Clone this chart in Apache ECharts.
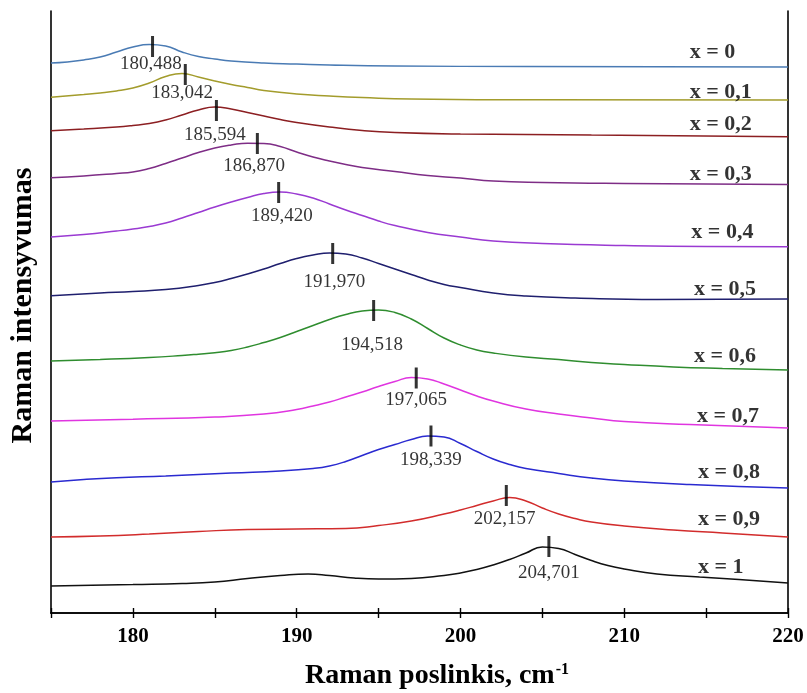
<!DOCTYPE html>
<html>
<head>
<meta charset="utf-8">
<script src="https://cdn.jsdelivr.net/npm/echarts@6/dist/echarts.min.js"></script>
<style>
  html, body { margin: 0; padding: 0; background: #fff; }
  #main { width: 807px; height: 693px; }
</style>
</head>
<body>
<div id="main"></div>
<script>
// Raman spectra, stacked with offsets (intensity in arbitrary units)
const seriesNames = ['x = 0', 'x = 0,1', 'x = 0,2', 'x = 0,3', 'x = 0,4', 'x = 0,5',
                     'x = 0,6', 'x = 0,7', 'x = 0,8', 'x = 0,9', 'x = 1'];
const seriesColors = ['#4a7bb4', '#a39c2c', '#8c1f22', '#7e2d86', '#9a3ad2', '#1f1f6e',
                      '#2f8d2f', '#e035e0', '#2a2ad0', '#d22c2c', '#111111'];

const c00 = [[175,550],[176,551],[177,553],[178,556],[179,561],[180,566],[181,568.5],[182,567],[183,561],[184,556.5],[185,554],[186,552],[188,550],[190,549],[192,548],[196,547],[204,546.5],[220,546]];
const c01 = [[175,515.7],[177,518.5],[178,520],[179,522],[180,525],[181,530],[182,536.5],[183,539.5],[184,536],[185,532],[186,528.5],[187,525.5],[188,522.5],[190,519],[192,517],[194,515.5],[197,514],[205,513.2],[220,513]];
const c02 = [[175,482.3],[177,484],[179,486],[180,487.5],[181,489.5],[182,493],[183,498],[184,503],[185,506],[186,504],[187,500.5],[188,497],[189,493.5],[190,490.5],[192,486],[194,482.5],[196,480.5],[200,479],[208,478],[220,476.3]];
const c03 = [[175,435.3],[177,437],[179,439.5],[180,441],[181,444.5],[182,449.5],[183,455],[184,460.5],[185,465],[186,468],[187,469.8],[188,469.5],[189,466.5],[190,461],[191,456],[192,452],[193,448.5],[194,445.5],[196,441.5],[198,437.5],[200,435],[202,432],[205,430.5],[210,429.5],[220,428.5]];
const c04 = [[175,376],[177,378.5],[179,382],[180,384],[181,386.5],[182,390],[183,395],[184,400.5],[185,406],[186,411],[187,415.5],[188,419.5],[189,421],[190,419],[191,415],[192,409],[193,403],[194,397.5],[195,392],[196,387.5],[198,380.5],[200,376],[202,372],[205,369.5],[210,367.5],[215,366.5],[220,366.3]];
const c05 = [[175,317.3],[178,320],[180,321.5],[182,323.5],[184,327.5],[185,330.5],[186,334.5],[187,339],[188,344],[189,349.5],[190,354.5],[191,358],[192,360],[193,359],[194,355],[195,349.5],[196,344],[197,338.5],[198,333],[199,328.5],[200,325.5],[202,320],[204,317],[207,315],[212,313.5],[220,314]];
const c06 = [[175,252],[178,253.5],[181,255.5],[183,257.5],[184,258.8],[185,260.3],[186,262.5],[187,266],[188,270.5],[189,275.5],[190,281.5],[191,287.5],[192,293.5],[193,298.5],[194,302],[195,303],[196,300.5],[197,294],[198,284.5],[199,275],[200,268],[201,263],[202,260],[204,256],[206,253.5],[208,250.5],[210,248.5],[213,246],[216,244.5],[220,243]];
const c07 = [[175,192],[180,193.8],[185,196],[188,199],[190,203.5],[191,207],[192,211],[193,216],[194,221],[195,226.5],[196,231.5],[197,235.5],[198,234],[199,229],[200,223],[201,217],[202,212],[204,204],[206,199],[208,195],[210,191.5],[214,188.5],[220,185]];
const c08 = [[175,131],[177,133.5],[179,135.3],[182,137],[186,140],[189,142],[191,144.5],[192,147],[193,151.5],[194,157.5],[195,163.5],[196,168.5],[197,173.5],[198,177],[199,176],[200,169.5],[201,161.5],[202,154],[203,148.5],[204,144.5],[206,139.5],[208,135],[210,132],[214,128.5],[220,125]];
const c09 = [[175,76],[178,77],[181,79],[184,81.5],[187,83.5],[190,84],[193,84.5],[195,87.5],[197,92],[199,99],[200,103],[201,107.5],[202,112],[203,115.5],[204,112],[205,105],[206,99],[207,94.5],[208,91],[210,87],[213,83],[216,80],[220,76]];
const c10 = [[175,27],[180,28.5],[183,29.5],[185,31],[187,34.5],[189,37.5],[190.7,39],[192,37.5],[193.5,35],[195,34],[197,34.5],[199,37.5],[200,40],[201,43.5],[202,48],[203,53.5],[204,60],[205,66],[206,64.5],[207,58.5],[208,52.5],[209,47.5],[210,44],[212,39],[214.6,36],[217,33.5],[220,30]];
const curves = [c00, c01, c02, c03, c04, c05, c06, c07, c08, c09, c10];

// composition labels (data coords of left edge / middle)
const nameX = [214.0, 214.0, 214.0, 214.0, 214.1, 214.26, 214.26, 214.44, 214.5, 214.5, 214.5];
const nameI = [561, 521, 488.5, 438.5, 380.5, 323.5, 256.5, 196.5, 140.5, 93.5, 46];

// peak markers and their values
const peakX = [181.2, 183.2, 185.1, 187.6, 188.9, 192.2, 194.7, 197.3, 198.2, 202.8, 205.4];
const peakI = [566.5, 538.5, 502.5, 469.5, 420.5, 359.5, 302.5, 235, 177, 117.5, 66.5];
const peakText = ['180,488', '183,042', '185,594', '186,870', '189,420', '191,970',
                  '194,518', '197,065', '198,339', '202,157', '204,701'];
const peakLabelX = [181.1, 183.0, 185.0, 187.4, 189.1, 192.3, 194.6, 197.3, 198.2, 202.7, 205.4];
const peakLabelI = [549, 520, 478, 447, 397, 331, 268, 213, 153, 94, 40];

const xMin = 175, xMax = 220, xStep = 5;
const yMin = 0, yMax = 602;

const serif = '"Liberation Serif", "Times New Roman", serif';

const chart = echarts.init(document.getElementById('main'));

const series = curves.map((pts, i) => ({
    type: 'line',
    name: seriesNames[i],
    data: pts,
    smooth: 0.5,
    showSymbol: false,
    symbol: 'none',
    silent: true,
    lineStyle: { color: seriesColors[i], width: 1.5 },
    itemStyle: { color: seriesColors[i] },
    z: 2
}));

series.push({
    type: 'scatter',
    name: 'peaks',
    silent: true,
    symbol: 'rect',
    symbolSize: [3, 21],
    itemStyle: { color: '#000' },
    data: peakX.map((x, i) => [x, peakI[i]]),
    z: 5
});

series.push({
    type: 'scatter',
    name: 'peakText',
    silent: true,
    symbolSize: 0,
    data: peakLabelX.map((x, i) => ({ value: [x, peakLabelI[i]], name: peakText[i] })),
    label: {
        show: true,
        position: 'inside',
        formatter: (p) => p.name,
        color: '#000',
        fontFamily: serif,
        fontSize: 19
    },
    z: 6
});

series.push({
    type: 'scatter',
    name: 'names',
    silent: true,
    symbolSize: 0,
    data: nameX.map((x, i) => ({ value: [x, nameI[i]], name: seriesNames[i] })),
    label: {
        show: true,
        position: 'right',
        distance: 0,
        formatter: (p) => p.name,
        color: '#000',
        fontFamily: serif,
        fontWeight: 'bold',
        fontSize: 22
    },
    z: 6
});

chart.setOption({
    animation: false,
    backgroundColor: '#fff',
    grid: {
        left: 51,
        right: 19,
        top: 11,
        bottom: 80,
        outerBoundsMode: 'none'
    },
    xAxis: [
        {
            type: 'value',
            min: xMin,
            max: xMax,
            interval: xStep,
            position: 'bottom',
            name: 'Raman poslinkis, cm{sup|-1}',
            nameLocation: 'middle',
            nameGap: 49,
            nameMoveOverlap: false,
            nameTextStyle: {
                fontFamily: serif,
                fontWeight: 'bold',
                fontSize: 28,
                color: '#000',
                padding: [0, 0, 0, 35],
                rich: {
                    sup: {
                        fontFamily: serif,
                        fontWeight: 'bold',
                        fontSize: 16,
                        color: '#000',
                        verticalAlign: 'top',
                        padding: [0, 0, 10, 1]
                    }
                }
            },
            axisLine: { show: true, lineStyle: { color: '#000', width: 1.6 } },
            axisTick: { show: true, length: 5, lineStyle: { color: '#000', width: 1.4 } },
            axisLabel: {
                show: true,
                margin: 13,
                color: '#000',
                fontFamily: serif,
                fontWeight: 'bold',
                fontSize: 21,
                showMinLabel: true,
                showMaxLabel: true,
                formatter: (v) => (v % 10 === 0 ? String(v) : '')
            },
            splitLine: { show: false }
        },
        {
            type: 'value',
            min: xMin,
            max: xMax,
            interval: xStep,
            position: 'top',
            axisLine: { show: true, lineStyle: { color: '#000', width: 1.6 } },
            axisTick: { show: true, length: 5, lineStyle: { color: '#000', width: 1.4 } },
            axisLabel: { show: false },
            splitLine: { show: false }
        }
    ],
    yAxis: [
        {
            type: 'value',
            min: yMin,
            max: yMax,
            position: 'left',
            name: 'Raman intensyvumas',
            nameLocation: 'middle',
            nameRotate: 90,
            nameGap: 13,
            nameMoveOverlap: false,
            nameTextStyle: {
                fontFamily: serif,
                fontWeight: 'bold',
                fontSize: 30,
                color: '#000',
                padding: [0, 0, 0, 13]
            },
            axisLine: { show: true, lineStyle: { color: '#000', width: 1.6 } },
            axisTick: { show: false },
            axisLabel: { show: false },
            splitLine: { show: false }
        },
        {
            type: 'value',
            min: yMin,
            max: yMax,
            position: 'right',
            axisLine: { show: true, lineStyle: { color: '#000', width: 1.6 } },
            axisTick: { show: false },
            axisLabel: { show: false },
            splitLine: { show: false }
        }
    ],
    series: series
});
</script>
</body>
</html>
